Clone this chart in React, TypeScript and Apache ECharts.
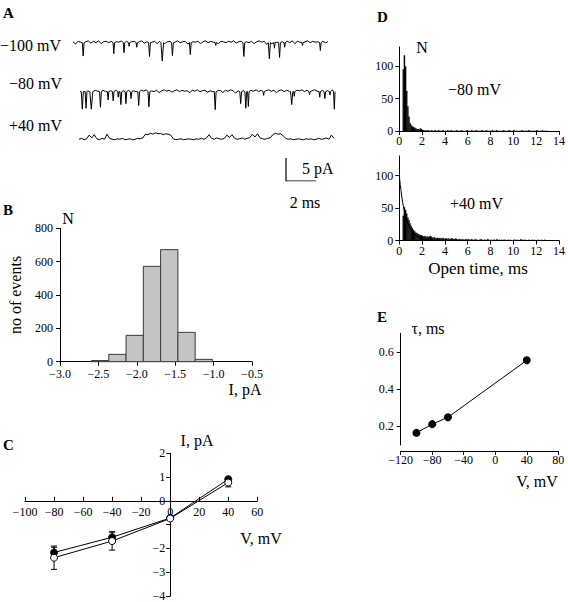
import React, { useEffect, useRef } from "react";
import * as echarts from "echarts";

const FONT = "'Liberation Serif', 'Times New Roman', serif";
const MINUS = "\u2212";

// ---------- Panel A: single-channel traces ----------
const traceDt = 0.17; // ms per sample
// baseline noise (pA)
const noise100 = [
  0.2, -0.3, 0.3, 0.1, -0.2, 0.2, 0.4, -0.1, 0.3, 0.0,
  0.4, -0.2, 0.2, 0.3, 0.0, 0.3, -0.1, 0.2, 0.1, 0.4,
  0.0, 0.3, -0.2, 0.2, 0.3, 0.1, 0.2, 0.4, -0.1, 0.2,
  0.0, 0.1, 0.3, -0.2, 0.3, 0.1, -0.2, 0.2, 0.3, 0.0,
  0.1, 0.4, 0.0, 0.2, 0.3, -0.3, 0.1, 0.2, 0.1, 0.3,
  -0.2, 0.2, 0.4, 0.0, 0.3, 0.1, 0.2, -0.2, 0.3, 0.2,
  0.0, 0.3, 0.1, 0.4, -0.1, 0.2, 0.3, 0.0, 0.2, 0.0,
  0.3, -0.2, 0.2, 0.4, 0.1, 0.3, -0.4, 0.1, -0.2, 0.3,
  0.1, 0.0, 0.2, 0.1, 0.3, 0.0, 0.4, -0.2, 0.3, 0.1,
  -0.1, 0.2, 0.4, 0.0, 0.3, 0.1, 0.2, -0.1, 0.3, 0.0,
  0.2,
];
const noise80 = [
  0.1, 0.3, -0.1, 0.2, 0.0, 0.3, 0.3, 0.1, 0.2, 0.3,
  0.0, 0.2, 0.2, -0.1, 0.3, 0.1, 0.0, 0.2, 0.1, 0.3,
  0.0, 0.2, 0.0, 0.1, 0.3, 0.1, 0.4, 0.0, 0.2, 0.0,
  0.3, -0.2, 0.2, 0.4, 0.1, 0.3, -0.1, 0.2, 0.4, 0.0,
  0.3, 0.1, 0.2, -0.2, 0.3, 0.1, 0.4, 0.0, 0.2, 0.3,
  -0.1, 0.2, 0.0, 0.1, 0.2, 0.3, -0.2, 0.3, 0.1, 0.4,
  0.2, -0.3, 0.2, 0.0, 0.2, 0.1, -0.1, 0.3, 0.1, 0.4,
  0.0, 0.3, -0.1, 0.2, 0.4, 0.1, 0.3, -0.2, 0.2, 0.4,
  0.0, 0.3, 0.1, 0.0, 0.2, 0.3, 0.2, 0.4, 0.0, 0.3,
  -0.1, 0.2, 0.4, 0.1, 0.0, 0.3, 0.1, 0.2, 0.0, 0.4,
  0.1,
];
const noisePlus40 = [
  0.0, 0.2, -0.1, 0.1, 0.9, 0.3, 1.0, 0.1, -0.1, 0.2,
  0.0, 1.1, 0.2, 0.0, -0.1, 0.1, 0.0, 0.2, -0.1, 0.0,
  0.1, -0.1, 0.0, 0.2, 0.1, 0.3, 1.1, 1.0, 1.3, 1.1,
  1.4, 1.2, 1.3, 1.0, 1.2, 1.1, 0.9, 0.1, -0.1, 0.0,
  0.1, -0.1, 0.0, 0.1, 0.0, -0.1, 0.1, 0.0, 0.2, 0.0,
  0.3, 1.0, 0.2, 0.0, 0.3, 0.1, 0.0, 0.2, 0.9, 0.4,
  1.0, 0.2, 0.0, 0.1, 0.3, 0.0, 0.2, 0.4, 1.1, 0.5,
  1.2, 0.3, 0.1, 0.0, 0.2, 0.3, 1.0, 1.3, 1.1, 1.2,
  0.8, 0.2, 0.0, 0.1, -0.1, 0.0, 0.1, 0.0, -0.1, 0.1,
  0.0, 0.1, -0.1, 0.0, 0.2, 0.0, 0.1, 0.3, 0.0, 0.9,
  0.2,
];
// channel openings: [time (ms), amplitude (pA), duration (ms)]
const events100 = [
  [0.68, -2.9, 0.12], [2.72, -2.4, 0.1], [3.4, -2.2, 0.1], [3.74, -0.8, 0.08],
  [4.25, -1.0, 0.08], [5.1, -3.0, 0.12], [5.95, -4.0, 0.18], [6.63, -2.8, 0.12],
  [7.82, -2.6, 0.12], [9.52, -0.6, 0.08], [11.39, -3.0, 0.12], [13.09, -3.5, 0.14],
  [13.43, -1.2, 0.08], [13.77, -3.2, 0.12], [14.11, -1.0, 0.08], [15.3, -0.6, 0.08],
  [16.49, -1.7, 0.1],
];
const events80 = [
  [0.15, -3.8, 0.14], [0.4, -3.6, 0.12], [0.75, -3.8, 0.2], [1.36, -3.4, 0.12],
  [1.87, -1.8, 0.1], [2.21, -2.0, 0.1], [2.55, -1.2, 0.08], [2.72, -2.8, 0.12],
  [3.06, -2.6, 0.1], [3.4, -1.5, 0.1], [3.91, -3.0, 0.12], [4.59, -3.3, 0.12],
  [9.01, -3.9, 0.12], [10.71, -2.6, 0.12], [11.05, -3.6, 0.12], [11.22, -3.2, 0.1],
  [12.24, -0.8, 0.08], [14.11, -2.8, 0.15], [14.28, -1.0, 0.08], [15.3, -0.6, 0.08],
  [15.98, -1.2, 0.08], [16.32, -1.5, 0.1], [16.66, -0.7, 0.08], [16.95, -3.8, 0.1],
];
const eventsPlus40: number[][] = [];
const traceStarts = [0, 0.47, 0.4]; // ms
const traceOffsets = [30.07, 19.42, 9.07]; // pA vertical offsets
const traceLabels = [MINUS + "100 mV", MINUS + "80 mV", "+40 mV"];
const scaleBarPA = 5;
const scaleBarMs = 2;
const scaleBarAt = 14.2; // ms

// ---------- Panel B: amplitude histogram ----------
const ampBinStarts = [-2.59, -2.365, -2.14, -1.915, -1.69, -1.465, -1.24];
const ampBinEnds = [-2.365, -2.14, -1.915, -1.69, -1.465, -1.24, -1.015];
const ampCounts = [7, 44, 158, 572, 672, 176, 14];

// ---------- Panel C: I-V relation ----------
const ivVoltage = [-80, -40, 0, 40];
const ivFilled = [-2.17, -1.53, -0.72, 0.91];
const ivFilledErr = [0.22, 0.23, 0.05, 0.08];
const ivOpen = [-2.39, -1.69, -0.74, 0.77];
const ivOpenErr = [0.49, 0.38, 0.05, 0.18];

// ---------- Panel D: open time histograms ----------
const openBinStart = 0.3;
const openBinWidth = 0.1;
const openCountsMinus80 = [
  95, 117, 100, 62, 38, 22, 12, 9, 7, 6,
  5, 4, 3, 3, 2, 4, 3, 1, 1, 0,
  1, 0, 1, 0, 0, 1, 0, 0, 1, 0,
  0, 1, 0, 0, 0, 1, 0, 0, 0, 1,
  0, 0, 1, 0, 0, 0, 0, 1, 0, 0,
  0, 1, 0, 0, 0, 0, 1, 0, 0, 0,
  1, 0, 0, 0, 1, 0, 0, 0, 0, 1,
  0, 0, 0, 1, 0, 0, 0, 0, 1, 0,
  0, 0, 1, 0, 0, 0, 0, 0, 1, 0,
  0, 0, 0, 1, 0, 0, 0, 1, 0, 0,
  0, 0, 0, 0, 1, 0, 0, 0, 0, 0,
  1, 0, 0, 0, 0, 0, 0, 1, 0, 0,
  0, 0, 1, 0, 0, 0, 0,
];
const openCountsPlus40 = [
  38, 51, 47, 41, 35, 31, 26, 22, 19, 16,
  14, 12, 11, 10, 9, 8, 8, 7, 6, 7,
  5, 6, 5, 6, 7, 5, 4, 5, 4, 3,
  4, 3, 4, 3, 3, 4, 2, 3, 3, 2,
  3, 2, 3, 3, 2, 2, 3, 2, 1, 2,
  2, 1, 2, 1, 1, 2, 1, 2, 1, 1,
  2, 1, 0, 2, 1, 1, 0, 1, 2, 1,
  0, 1, 1, 0, 2, 1, 0, 1, 0, 1,
  1, 0, 2, 0, 1, 0, 1, 0, 1, 1,
  0, 0, 1, 0, 1, 0, 0, 1, 1, 0,
  1, 0, 0, 2, 0, 1, 0, 1, 0, 0,
  1, 0, 0, 1, 0, 1, 0, 0, 1, 0,
  0, 1, 0, 0, 1, 0, 0,
];
const fitTime = [0, 0.1, 0.2, 0.3, 0.4, 0.5, 0.6, 0.8, 1.0, 1.2, 1.5, 2.0, 2.5, 3.0];
const fitCount = [100, 84, 70, 58, 49, 41, 34, 24, 17, 12, 7, 3, 1.3, 0.5];

// ---------- Panel E: tau vs V ----------
const tauVoltage = [-100, -80, -60, 40];
const tauValue = [0.165, 0.212, 0.249, 0.555];

const fmtMinus = (v: number) => (v < 0 ? MINUS + Math.abs(v) : String(v));

const baseAxis = (extra: any = {}) => ({
  axisLine: { show: true, onZero: false, lineStyle: { color: "#000", width: 1 } },
  axisTick: { show: true, length: 4, lineStyle: { color: "#000", width: 1 } },
  splitLine: { show: false },
  ...extra,
});

const labelStyle = { color: "#000", fontFamily: FONT, fontSize: 12 };

function buildTrace(noise: number[], events: number[][], start: number, offset: number) {
  const pts: number[][] = [];
  noise.forEach((v, i) => {
    const t = i * traceDt;
    const inEvent = events.some((e) => Math.abs(t - e[0]) <= e[2] / 2 + 0.02);
    if (!inEvent) pts.push([t, v]);
  });
  events.forEach((e) => {
    pts.push([e[0] - e[2] / 2, 0]);
    pts.push([e[0], e[1]]);
    pts.push([e[0] + e[2] / 2, 0]);
  });
  pts.sort((a, b) => a[0] - b[0]);
  return pts.map((p) => [start + p[0], offset + p[1]]);
}

function histRect(fill: string, stroke: string, lw: number) {
  return (params: any, api: any) => {
    const x0 = api.value(0);
    const x1 = api.value(1);
    const n = api.value(2);
    const p0 = api.coord([x0, n]);
    const p1 = api.coord([x1, 0]);
    return {
      type: "rect",
      shape: { x: p0[0], y: p0[1], width: p1[0] - p0[0], height: p1[1] - p0[1] },
      style: { fill, stroke, lineWidth: lw },
    };
  };
}

function errRender(params: any, api: any) {
  const x = api.value(0);
  const lo = api.value(1);
  const hi = api.value(2);
  const a = api.coord([x, lo]);
  const b = api.coord([x, hi]);
  const st = { stroke: "#000", lineWidth: 1 };
  return {
    type: "group",
    children: [
      { type: "line", shape: { x1: a[0], y1: a[1], x2: b[0], y2: b[1] }, style: st },
      { type: "line", shape: { x1: a[0] - 3, y1: a[1], x2: a[0] + 3, y2: a[1] }, style: st },
      { type: "line", shape: { x1: b[0] - 3, y1: b[1], x2: b[0] + 3, y2: b[1] }, style: st },
    ],
  };
}

function txt(text: string, x: number, y: number, size = 16, bold = false, align = "left") {
  const font = `${bold ? "bold " : ""}${size}px ${FONT}`;
  return {
    type: "text",
    x,
    y,
    silent: true,
    style: {
      text,
      font,
      fill: "#000",
      textAlign: align,
      textVerticalAlign: "middle",
      align,
      verticalAlign: "middle",
    },
  };
}

function buildOption() {
  const noises = [noise100, noise80, noisePlus40];
  const evs = [events100, events80, eventsPlus40];
  const traceSeries = noises.map((nz, k) => ({
    type: "line",
    xAxisIndex: 0,
    yAxisIndex: 0,
    showSymbol: false,
    symbol: "none",
    lineStyle: { color: "#000", width: 1 },
    data: buildTrace(nz, evs[k], traceStarts[k], traceOffsets[k]),
    silent: true,
  }));

  const scaleBar = {
    type: "line",
    xAxisIndex: 0,
    yAxisIndex: 0,
    showSymbol: false,
    symbol: "none",
    lineStyle: { color: "#000", width: 1.2 },
    data: [
      [scaleBarAt, scaleBarPA],
      [scaleBarAt, 0],
      [scaleBarAt + scaleBarMs, 0],
    ],
  };

  const ampData = ampCounts.map((n, i) => [ampBinStarts[i], ampBinEnds[i], n]);
  const dTop = openCountsMinus80.map((n, i) => [
    openBinStart + i * openBinWidth,
    openBinStart + (i + 1) * openBinWidth,
    n,
  ]);
  const dBot = openCountsPlus40.map((n, i) => [
    openBinStart + i * openBinWidth,
    openBinStart + (i + 1) * openBinWidth,
    n,
  ]);

  // Panel C: axes cross at (0, 0)
  const cXMin = -100, cXMax = 60, cYMin = -4, cYMax = 2;
  const cWidth = 232.3;
  const cHeight = 142.7;
  const cYOffset = -(0 - cXMin) * (cWidth / (cXMax - cXMin));
  const cXOffset = -(0 - cYMin) * (cHeight / (cYMax - cYMin));

  return {
    animation: false,
    backgroundColor: "#fff",
    textStyle: { fontFamily: FONT, color: "#000" },
    grid: [
      { left: 73, top: 30, width: 263, height: 151 }, // A
      { left: 60, top: 228.3, width: 192, height: 133.4 }, // B
      { left: 25, top: 453.3, width: cWidth, height: cHeight }, // C
      { left: 399.3, top: 47, width: 161.7, height: 84 }, // D top
      { left: 399.3, top: 156, width: 161.7, height: 84.5 }, // D bottom
      { left: 400.7, top: 333.3, width: 157.6, height: 111.7 }, // E
    ],
    xAxis: [
      { gridIndex: 0, type: "value", min: 0, max: 263 / 15, show: false },
      baseAxis({
        gridIndex: 1,
        type: "value",
        min: -3,
        max: -0.5,
        interval: 0.5,
        axisLabel: {
          ...labelStyle,
          margin: 6,
          showMinLabel: true,
          showMaxLabel: true,
          formatter: (v: number) => (v < 0 ? MINUS + Math.abs(v).toFixed(1) : v.toFixed(1)),
        },
      }),
      baseAxis({
        gridIndex: 2,
        type: "value",
        min: cXMin,
        max: cXMax,
        interval: 20,
        position: "bottom",
        offset: cXOffset,
        axisTick: { show: true, inside: true, length: 4, lineStyle: { color: "#000" } },
        axisLabel: { ...labelStyle, margin: 5, showMinLabel: true, showMaxLabel: true, formatter: fmtMinus },
      }),
      baseAxis({
        gridIndex: 3,
        type: "value",
        min: 0,
        max: 14,
        interval: 2,
        axisLabel: { ...labelStyle, margin: 4 },
      }),
      baseAxis({
        gridIndex: 4,
        type: "value",
        min: 0,
        max: 14,
        interval: 2,
        axisLabel: { ...labelStyle, margin: 4 },
      }),
      baseAxis({
        gridIndex: 5,
        type: "value",
        min: -120,
        max: 80,
        interval: 40,
        offset: 6,
        axisLabel: { ...labelStyle, margin: 3, showMinLabel: true, showMaxLabel: true, formatter: fmtMinus },
      }),
    ],
    yAxis: [
      { gridIndex: 0, type: "value", min: 0, max: 151 / 4.6, show: false },
      baseAxis({
        gridIndex: 1,
        type: "value",
        min: 0,
        max: 800,
        interval: 200,
        name: "no of events",
        nameLocation: "middle",
        nameGap: 37,
        nameTextStyle: { fontFamily: FONT, fontSize: 16, color: "#000" },
        axisLabel: { ...labelStyle, margin: 7 },
      }),
      baseAxis({
        gridIndex: 2,
        type: "value",
        min: cYMin,
        max: cYMax,
        interval: 1,
        position: "left",
        offset: cYOffset,
        axisLabel: {
          ...labelStyle,
          margin: 5,
          showMinLabel: true,
          showMaxLabel: true,
          formatter: (v: number) => (v === -1 ? "" : fmtMinus(v)),
        },
      }),
      baseAxis({
        gridIndex: 3,
        type: "value",
        min: 0,
        max: 130,
        axisTick: { show: true, length: 4, customValues: [0, 50, 100], lineStyle: { color: "#000" } },
        axisLabel: { ...labelStyle, margin: 6, customValues: [0, 50, 100] },
      }),
      baseAxis({
        gridIndex: 4,
        type: "value",
        min: 0,
        max: 130,
        axisTick: { show: true, length: 4, customValues: [0, 50, 100], lineStyle: { color: "#000" } },
        axisLabel: { ...labelStyle, margin: 6, customValues: [0, 50, 100] },
      }),
      baseAxis({
        gridIndex: 5,
        type: "value",
        min: 0.1,
        max: 0.7,
        axisTick: { show: true, length: 4, customValues: [0.2, 0.4, 0.6], lineStyle: { color: "#000" } },
        axisLabel: {
          ...labelStyle,
          margin: 7,
          customValues: [0.2, 0.4, 0.6],
          formatter: (v: number) => v.toFixed(1),
        },
      }),
    ],
    series: [
      ...traceSeries,
      scaleBar,
      {
        type: "custom",
        xAxisIndex: 1,
        yAxisIndex: 1,
        renderItem: histRect("#c4c4c4", "#3a3a3a", 1),
        encode: { x: [0, 1], y: 2 },
        data: ampData,
      },
      {
        type: "custom",
        xAxisIndex: 2,
        yAxisIndex: 2,
        renderItem: errRender,
        encode: { x: 0, y: [1, 2] },
        data: ivVoltage.map((v, i) => [v, ivFilled[i] - ivFilledErr[i], ivFilled[i] + ivFilledErr[i]]),
        z: 1,
      },
      {
        type: "custom",
        xAxisIndex: 2,
        yAxisIndex: 2,
        renderItem: errRender,
        encode: { x: 0, y: [1, 2] },
        data: ivVoltage.map((v, i) => [v, ivOpen[i] - ivOpenErr[i], ivOpen[i] + ivOpenErr[i]]),
        z: 1,
      },
      {
        type: "line",
        xAxisIndex: 2,
        yAxisIndex: 2,
        symbol: "circle",
        symbolSize: 7,
        lineStyle: { color: "#000", width: 1 },
        itemStyle: { color: "#000", borderColor: "#000", borderWidth: 1 },
        data: ivVoltage.map((v, i) => [v, ivFilled[i]]),
        z: 3,
      },
      {
        type: "line",
        xAxisIndex: 2,
        yAxisIndex: 2,
        symbol: "circle",
        symbolSize: 7,
        lineStyle: { color: "#000", width: 1 },
        itemStyle: { color: "#fff", borderColor: "#000", borderWidth: 1 },
        data: ivVoltage.map((v, i) => [v, ivOpen[i]]),
        z: 4,
      },
      {
        type: "custom",
        xAxisIndex: 3,
        yAxisIndex: 3,
        renderItem: histRect("#000", "#000", 0.3),
        encode: { x: [0, 1], y: 2 },
        data: dTop,
      },
      {
        type: "custom",
        xAxisIndex: 4,
        yAxisIndex: 4,
        renderItem: histRect("#000", "#000", 0.3),
        encode: { x: [0, 1], y: 2 },
        data: dBot,
      },
      {
        type: "line",
        xAxisIndex: 4,
        yAxisIndex: 4,
        showSymbol: false,
        symbol: "none",
        smooth: 0.3,
        lineStyle: { color: "#000", width: 1 },
        data: fitTime.map((t, i) => [t, fitCount[i]]),
      },
      {
        type: "line",
        xAxisIndex: 5,
        yAxisIndex: 5,
        symbol: "circle",
        symbolSize: 8,
        lineStyle: { color: "#000", width: 1 },
        itemStyle: { color: "#000" },
        data: tauVoltage.map((v, i) => [v, tauValue[i]]),
      },
    ],
    graphic: [
      txt("A", 3, 13, 15, true),
      txt(traceLabels[0], 0, 45),
      txt(traceLabels[1], 9, 83),
      txt(traceLabels[2], 9, 125),
      txt(`${scaleBarPA} pA`, 302, 168),
      txt(`${scaleBarMs} ms`, 305, 202, 16, false, "center"),
      txt("B", 3, 210, 15, true),
      txt("N", 68, 218, 16, false, "center"),
      txt("I, pA", 245, 389, 16, false, "center"),
      txt("C", 3, 445, 15, true),
      txt("I, pA", 197, 440, 16, false, "center"),
      txt("V, mV", 261, 538, 16, false, "center"),
      txt("D", 377, 17, 15, true),
      txt("N", 422, 47, 16, false, "center"),
      txt(MINUS + "80 mV", 448, 89),
      txt("+40 mV", 450, 203),
      txt("Open time, ms", 478, 268, 17, false, "center"),
      txt("E", 377, 317, 15, true),
      txt("\u03c4, ms", 428, 328, 16, false, "center"),
      txt("V, mV", 537, 481, 16, false, "center"),
    ],
  };
}

export default function App() {
  const ref = useRef<HTMLDivElement>(null);
  useEffect(() => {
    document.body.style.margin = "0";
    if (!ref.current) return;
    const chart = echarts.init(ref.current, undefined, { renderer: "svg" });
    chart.setOption(buildOption() as any);
    return () => chart.dispose();
  }, []);
  return (
    <div
      ref={ref}
      style={{ position: "absolute", left: 0, top: 0, width: 568, height: 602, background: "#fff" }}
    />
  );
}
